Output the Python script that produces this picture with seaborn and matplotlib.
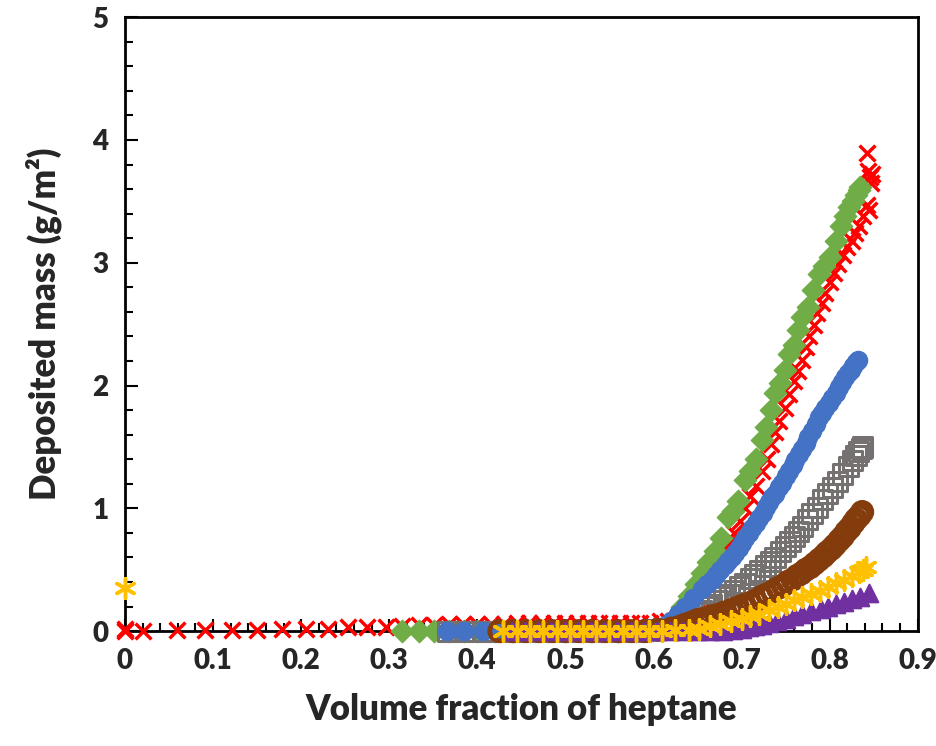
import numpy as np
import pandas as pd
import seaborn as sns
import matplotlib.pyplot as plt
from matplotlib.ticker import MultipleLocator

#--Data (volume fraction of heptane, deposited mass g/m2)
red_x = [0.0, 0.0, 0.021, 0.059, 0.091, 0.122, 0.150, 0.178, 0.205, 0.230, 0.253, 0.275,
         0.296, 0.315, 0.334, 0.351, 0.368, 0.384, 0.400, 0.415, 0.430, 0.445, 0.459, 0.473,
         0.487, 0.500, 0.513, 0.526, 0.538, 0.550, 0.562, 0.574, 0.585, 0.596, 0.607, 0.617,
         0.627, 0.635, 0.642, 0.649, 0.655, 0.662, 0.668, 0.674, 0.680, 0.686, 0.692, 0.698,
         0.704, 0.710, 0.716, 0.723, 0.729, 0.734, 0.738, 0.743, 0.749, 0.754, 0.759, 0.764,
         0.769, 0.773, 0.777, 0.782, 0.786, 0.791, 0.795, 0.800, 0.805, 0.810, 0.815, 0.820,
         0.825, 0.829, 0.833, 0.838, 0.842, 0.845, 0.847, 0.848, 0.844, 0.846, 0.843]
red_y = [0.0, 0.02, 0.0, 0.01, 0.01, 0.01, 0.01, 0.02, 0.02, 0.02, 0.03, 0.03,
         0.03, 0.04, 0.05, 0.05, 0.06, 0.06, 0.06, 0.06, 0.06, 0.07, 0.07, 0.07,
         0.07, 0.07, 0.07, 0.07, 0.07, 0.07, 0.07, 0.07, 0.07, 0.07, 0.08, 0.08,
         0.09, 0.15, 0.22, 0.28, 0.36, 0.44, 0.51, 0.58, 0.65, 0.72, 0.80, 0.90,
         1.00, 1.10, 1.18, 1.30, 1.40, 1.52, 1.62, 1.71, 1.82, 1.93, 2.04, 2.12,
         2.21, 2.31, 2.40, 2.49, 2.59, 2.67, 2.75, 2.84, 2.92, 2.99, 3.06, 3.13,
         3.18, 3.24, 3.30, 3.38, 3.47, 3.43, 3.65, 3.72, 3.75, 3.70, 3.89]

green_x = [0.315, 0.334, 0.351, 0.368, 0.385, 0.400, 0.420, 0.440, 0.460, 0.480, 0.500,
           0.520, 0.540, 0.560, 0.580, 0.600, 0.612, 0.620, 0.626, 0.632, 0.640, 0.648,
           0.655, 0.662, 0.670, 0.677, 0.685, 0.690, 0.696, 0.704, 0.710, 0.716, 0.723,
           0.728, 0.734, 0.738, 0.744, 0.749, 0.754, 0.759, 0.764, 0.769, 0.775, 0.781,
           0.788, 0.794, 0.800, 0.807, 0.813, 0.818, 0.822, 0.826, 0.830, 0.833, 0.835]
green_y = [0.0, 0.0, 0.0, 0.0, 0.0, 0.0, 0.0, 0.0, 0.0, 0.0, 0.0,
           0.0, 0.0, 0.0, 0.0, 0.01, 0.03, 0.07, 0.12, 0.20, 0.29, 0.38,
           0.47, 0.56, 0.65, 0.76, 0.93, 0.98, 1.06, 1.23, 1.30, 1.40, 1.56,
           1.66, 1.80, 1.94, 2.02, 2.13, 2.26, 2.33, 2.45, 2.56, 2.64, 2.78,
           2.91, 2.97, 3.05, 3.18, 3.30, 3.38, 3.45, 3.50, 3.55, 3.59, 3.62]

blue_x = [0.366, 0.385, 0.406, 0.420, 0.435, 0.450, 0.465, 0.480, 0.495, 0.510, 0.525,
          0.540, 0.555, 0.570, 0.585, 0.600, 0.612, 0.620, 0.628, 0.636, 0.645, 0.655,
          0.661, 0.666, 0.671, 0.676, 0.681, 0.685, 0.689, 0.693, 0.697, 0.700, 0.704,
          0.708, 0.712, 0.716, 0.720, 0.724, 0.728, 0.731, 0.735, 0.738, 0.742, 0.746,
          0.750, 0.754, 0.758, 0.761, 0.765, 0.769, 0.773, 0.776, 0.780, 0.784, 0.788,
          0.791, 0.795, 0.799, 0.803, 0.807, 0.811, 0.814, 0.818, 0.821, 0.824, 0.827,
          0.830, 0.832]
blue_y = [0.0, 0.0, 0.0, 0.0, 0.0, 0.0, 0.0, 0.0, 0.0, 0.0, 0.0,
          0.0, 0.0, 0.0, 0.0, 0.01, 0.04, 0.08, 0.14, 0.20, 0.27, 0.34,
          0.38, 0.42, 0.46, 0.50, 0.54, 0.57, 0.60, 0.64, 0.68, 0.72, 0.76,
          0.80, 0.84, 0.88, 0.92, 0.96, 1.01, 1.05, 1.09, 1.12, 1.17, 1.21,
          1.26, 1.30, 1.35, 1.39, 1.44, 1.48, 1.53, 1.58, 1.63, 1.69, 1.74,
          1.78, 1.82, 1.86, 1.90, 1.94, 1.99, 2.03, 2.07, 2.10, 2.13, 2.16,
          2.19, 2.21]

gray_x = [0.366, 0.385, 0.406, 0.420, 0.435, 0.450, 0.465, 0.480, 0.495, 0.510, 0.525,
          0.540, 0.555, 0.570, 0.585, 0.600, 0.612, 0.622, 0.630, 0.637, 0.644, 0.650,
          0.655, 0.661, 0.666, 0.673, 0.680, 0.686, 0.692, 0.698, 0.704, 0.710, 0.715,
          0.721, 0.727, 0.733, 0.738, 0.744, 0.750, 0.755, 0.760, 0.765, 0.769, 0.775,
          0.780, 0.786, 0.792, 0.798, 0.803, 0.809, 0.815, 0.821, 0.826, 0.830, 0.833,
          0.836, 0.837]
gray_y = [0.0, 0.0, 0.0, 0.0, 0.0, 0.0, 0.0, 0.0, 0.0, 0.0, 0.0,
          0.0, 0.0, 0.0, 0.0, 0.01, 0.02, 0.04, 0.06, 0.09, 0.12, 0.15,
          0.17, 0.20, 0.22, 0.25, 0.28, 0.30, 0.33, 0.36, 0.39, 0.43, 0.46,
          0.49, 0.53, 0.57, 0.60, 0.65, 0.69, 0.73, 0.77, 0.81, 0.85, 0.91,
          0.96, 1.01, 1.07, 1.12, 1.17, 1.22, 1.28, 1.34, 1.39, 1.43, 1.46,
          1.49, 1.50]

brown_x = [0.425, 0.440, 0.455, 0.470, 0.485, 0.500, 0.515, 0.530, 0.545, 0.560, 0.575,
           0.590, 0.605, 0.620, 0.628, 0.635, 0.643, 0.650, 0.658, 0.665, 0.672, 0.680,
           0.688, 0.695, 0.702, 0.710, 0.716, 0.723, 0.729, 0.735, 0.741, 0.747, 0.752,
           0.758, 0.763, 0.768, 0.773, 0.778, 0.783, 0.788, 0.793, 0.797, 0.802, 0.806,
           0.811, 0.815, 0.819, 0.823, 0.827, 0.830, 0.834, 0.837]
brown_y = [0.0, 0.0, 0.0, 0.0, 0.0, 0.0, 0.0, 0.0, 0.0, 0.0, 0.0,
           0.0, 0.01, 0.02, 0.03, 0.05, 0.07, 0.09, 0.10, 0.12, 0.13, 0.15,
           0.17, 0.19, 0.21, 0.23, 0.25, 0.28, 0.30, 0.32, 0.35, 0.37, 0.40,
           0.42, 0.45, 0.47, 0.50, 0.52, 0.55, 0.58, 0.61, 0.64, 0.67, 0.70,
           0.74, 0.77, 0.81, 0.84, 0.88, 0.91, 0.94, 0.97]

yellow_x = [0.0, 0.429, 0.445, 0.460, 0.475, 0.490, 0.505, 0.520, 0.535, 0.550, 0.565,
            0.580, 0.595, 0.610, 0.625, 0.640, 0.652, 0.664, 0.676, 0.688, 0.700, 0.710,
            0.720, 0.731, 0.741, 0.750, 0.760, 0.769, 0.779, 0.789, 0.798, 0.807, 0.816,
            0.825, 0.833, 0.838, 0.841]
yellow_y = [0.35, 0.0, 0.0, 0.0, 0.0, 0.0, 0.0, 0.0, 0.0, 0.0, 0.0,
            0.0, 0.0, 0.0, 0.01, 0.01, 0.02, 0.04, 0.06, 0.08, 0.10, 0.12,
            0.14, 0.17, 0.20, 0.22, 0.25, 0.28, 0.30, 0.33, 0.36, 0.39, 0.42,
            0.45, 0.48, 0.50, 0.52]

purple_x = [0.439, 0.454, 0.469, 0.484, 0.499, 0.514, 0.529, 0.544, 0.559, 0.574, 0.589,
            0.604, 0.619, 0.634, 0.649, 0.664, 0.679, 0.690, 0.700, 0.708, 0.715, 0.723,
            0.731, 0.740, 0.750, 0.759, 0.769, 0.779, 0.790, 0.798, 0.807, 0.816, 0.825,
            0.835, 0.845]
purple_y = [0.0, 0.0, 0.0, 0.0, 0.0, 0.0, 0.0, 0.0, 0.0, 0.0, 0.0,
            0.0, 0.0, 0.0, 0.0, 0.0, 0.0, 0.01, 0.02, 0.03, 0.04, 0.05,
            0.07, 0.08, 0.10, 0.12, 0.14, 0.16, 0.18, 0.20, 0.22, 0.24, 0.26,
            0.28, 0.31]

#%%
#--Style
sns.set_style('white')
plt.rcParams['font.family'] = ['Lato', 'DejaVu Sans']
plt.rcParams['font.weight'] = 'heavy'

fig = plt.figure(figsize=(9.37, 7.46), dpi=100)
ax = fig.add_axes([0.1334, 0.154, 0.846, 0.823])

#--Series drawn back-to-front (red lowest, yellow on top)
asterisk = (6, 2, 0)
sns.scatterplot(x=red_x, y=red_y, ax=ax, marker='x', s=130,
                color='#FF0000', linewidth=2.5, zorder=3, clip_on=False)
sns.scatterplot(x=green_x, y=green_y, ax=ax, marker='D', s=130,
                color='#70AD47', edgecolor='#70AD47', linewidth=1, zorder=4, clip_on=False)
sns.scatterplot(x=gray_x, y=gray_y, ax=ax, marker='s', s=190,
                facecolor='none', edgecolor='#767171', linewidth=2.2, zorder=5, clip_on=False)
sns.scatterplot(x=blue_x, y=blue_y, ax=ax, marker='o', s=170,
                color='#4472C4', edgecolor='#4472C4', linewidth=1, zorder=6, clip_on=False)
sns.scatterplot(x=brown_x, y=brown_y, ax=ax, marker='o', s=190,
                facecolor='none', edgecolor='#843C0C', linewidth=3.5, zorder=7, clip_on=False)
sns.scatterplot(x=purple_x, y=purple_y, ax=ax, marker='^', s=160,
                color='#7030A0', edgecolor='#7030A0', linewidth=1.5, zorder=8, clip_on=False)
sns.scatterplot(x=yellow_x, y=yellow_y, ax=ax, marker=asterisk, s=200,
                color='#FFC000', edgecolor='#FFC000', linewidth=2.5, zorder=9, clip_on=False)

#--Axes
ax.set_xlim(0, 0.9)
ax.set_ylim(0, 5)
ax.xaxis.set_major_locator(MultipleLocator(0.1))
ax.xaxis.set_minor_locator(MultipleLocator(0.02))
ax.yaxis.set_major_locator(MultipleLocator(1))
ax.yaxis.set_minor_locator(MultipleLocator(0.2))
ax.set_xticks(np.arange(0, 0.91, 0.1))
ax.set_xticklabels(['0', '0.1', '0.2', '0.3', '0.4', '0.5', '0.6', '0.7', '0.8', '0.9'])
ax.tick_params(which='both', direction='in', bottom=True, left=True, top=False, right=False,
               width=1.5, color='black')
ax.tick_params(which='major', length=9, labelsize=20, pad=12)
ax.tick_params(which='minor', length=6)
for lab in ax.get_xticklabels() + ax.get_yticklabels():
    lab.set_fontweight('heavy')
for sp in ax.spines.values():
    sp.set_color('black')
    sp.set_linewidth(2)
ax.spines['left'].set_zorder(2)
ax.spines['bottom'].set_zorder(2)

ax.set_xlabel('Volume fraction of heptane', fontsize=25, fontweight='heavy', labelpad=14)
ax.set_ylabel('Deposited mass (g/m²)', fontsize=25, fontweight='heavy', labelpad=22)

plt.savefig('out.png', dpi=100)
plt.close()
